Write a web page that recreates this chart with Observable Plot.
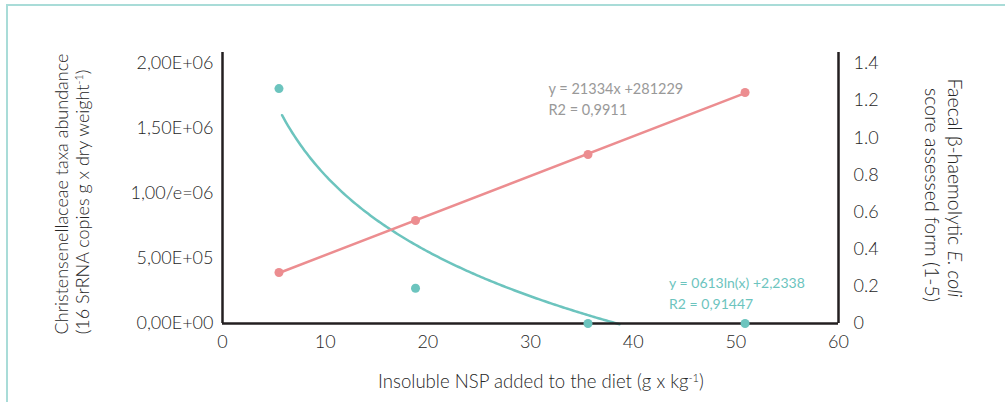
<!DOCTYPE html>
<html>
<head>
<meta charset="utf-8">
<script src="https://cdn.jsdelivr.net/npm/d3@7"></script>
<script src="https://cdn.jsdelivr.net/npm/@observablehq/plot@0.6"></script>
<style>
  body { margin: 0; background: #fff; }
  #chart svg { display: block; }
</style>
</head>
<body>
<div id="chart"></div>
<script>
// ---- data ----
const nsp = [5.5, 18.8, 35.6, 50.9];                 // insoluble NSP (g/kg)
const abundance = [392000, 792000, 1300000, 1777000]; // Christensenellaceae (left axis)
const score = [1.265, 0.19, 0, 0];                    // E. coli score (right axis)
const xTicks = [0, 10, 20, 30, 40, 50, 60];
const leftTicks = [0, 500000, 1000000, 1500000, 2000000];
const leftTickLabels = ["0,00E+00", "5,00E+05", "1,00/e=06", "1,50E+06", "2,00E+06"];
const rightTicks = [0, 0.2, 0.4, 0.6, 0.8, 1.0, 1.2, 1.4];
const rightTickLabels = ["0", "0.2", "0.4", "0.6", "0.8", "1.0", "1.2", "1.4"];
const linLabel = "y = 21334x +281229\nR2 = 0,9911";
const logLabel = "y = 0613ln(x) +2,2338\nR2 = 0,91447";

// ---- helpers ----
const PINK = "#ec8d90", TEAL = "#6cc4be", AXIS = "#231f20", TXT = "#262626";
const k = 2000000 / 1.4; // right-axis units -> left-axis units
const rows = nsp.map((x, i) => ({x, a: abundance[i], s: score[i] * k}));

// logarithmic trend of score (least squares on ln x)
const lx = nsp.map(Math.log);
const mx = d3.mean(lx), my = d3.mean(score);
const slope = d3.sum(lx, (v, i) => (v - mx) * (score[i] - my)) / d3.sum(lx, v => (v - mx) ** 2);
const icpt = my - slope * mx;
const x0 = nsp[0] + 0.3;
const xEnd = Math.exp((-0.004 - icpt) / slope);
const curve = d3.range(x0, xEnd, 0.2).concat([xEnd]).map(x => ({x, s: (slope * Math.log(x) + icpt) * k}));

const yTop = 2000000 * 271 / 260;
const FS = 18;

const plot = Plot.plot({
  width: 1005, height: 402,
  marginLeft: 222, marginRight: 167, marginTop: 52, marginBottom: 79,
  x: {domain: [0, 60]},
  y: {domain: [0, yTop]},
  style: {fontFamily: "Lato, 'Open Sans', sans-serif", fontSize: FS + "px", fontWeight: 300, color: TXT, background: "white", overflow: "visible"},
  marks: [
    Plot.axisX(xTicks, {tickSize: 0, tickPadding: 12, label: null, fontSize: FS, fill: TXT}),
    Plot.axisY(leftTicks, {anchor: "left", tickSize: 0, tickPadding: 9, label: null, fontSize: FS, fill: TXT,
      tickFormat: d => leftTickLabels[leftTicks.indexOf(d)]}),
    Plot.axisY(rightTicks.map(t => t * k), {anchor: "right", tickSize: 0, tickPadding: 15, label: null, fontSize: FS, fill: TXT,
      tickFormat: d => rightTickLabels[rightTicks.findIndex(t => Math.abs(t * k - d) < 1)]}),
    Plot.line(curve, {x: "x", y: "s", stroke: TEAL, strokeWidth: 2.5}),
    Plot.linearRegressionY(rows, {x: "x", y: "a", stroke: PINK, strokeWidth: 2.5, ci: 0}),
    Plot.ruleX([0, 60], {y1: 0, y2: yTop, stroke: AXIS, strokeWidth: 2.5}),
    Plot.ruleY([0], {x1: 0, x2: 60, stroke: AXIS, strokeWidth: 2.5}),
    Plot.dot(rows, {x: "x", y: "a", r: 4.5, fill: PINK}),
    Plot.dot(rows, {x: "x", y: "s", r: 4.5, fill: TEAL}),
    Plot.text([linLabel], {x: 31.75, y: 1735000, text: d => d, textAnchor: "start", lineAnchor: "middle", lineHeight: 1.4, fontSize: 14.5, fontWeight: 400, fill: "#999999"}),
    Plot.text([logLabel], {x: 43.5, y: 244000, text: d => d, textAnchor: "start", lineAnchor: "middle", lineHeight: 1.5, fontSize: 14, fontWeight: 400, fill: TEAL})
  ]
});
document.getElementById("chart").appendChild(plot);

// ---- frame & axis titles ----
const svg = d3.select(plot);
svg.append("line").attr("x1", 6).attr("x2", 1005).attr("y1", 5).attr("y2", 5).attr("stroke", "#a9dcd8").attr("stroke-width", 2);
svg.append("line").attr("x1", 7).attr("x2", 7).attr("y1", 4).attr("y2", 402).attr("stroke", "#a9dcd8").attr("stroke-width", 2);

const ff = "Lato, 'Open Sans', sans-serif";
function title(x, y, rot, parts, size) {
  const t = svg.append("text")
    .attr("transform", `translate(${x},${y}) rotate(${rot})`)
    .attr("text-anchor", "middle").attr("dy", "0.35em")
    .attr("font-family", ff).attr("font-weight", 300).attr("font-size", size).attr("fill", TXT);
  parts.forEach(p => {
    const ts = t.append("tspan").text(p.t);
    if (p.i) ts.attr("font-style", "italic");
    if (p.sup) ts.attr("font-size", size * 0.6).attr("baseline-shift", "super");
  });
}
title(62, 194, -90, [{t: "Christensenellaceae taxa abundance"}], 18);
title(83, 202, -90, [{t: "(16 SrRNA copies g x dry weight"}, {t: "-1", sup: true}, {t: ")"}], 18);
title(955, 188, 90, [{t: "Faecal β-haemolytic "}, {t: "E. coli", i: true}], 19.5);
title(932, 195, 90, [{t: "score assessed form (1-5)"}], 19.5);
title(541, 381, 0, [{t: "Insoluble NSP added to the diet (g x kg"}, {t: "-1", sup: true}, {t: ")"}], 18.6);
</script>
</body>
</html>
